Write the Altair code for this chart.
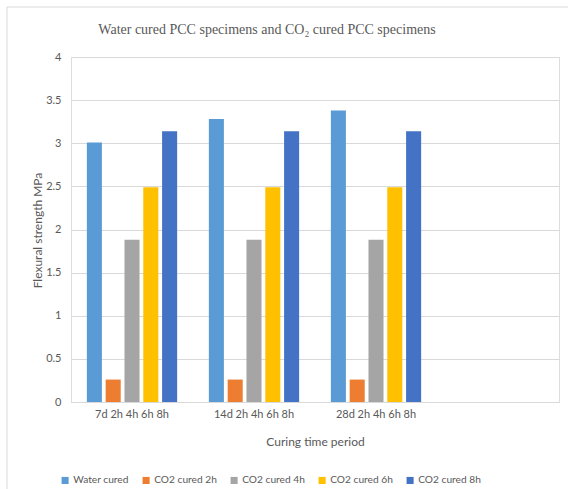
import altair as alt
import pandas as pd

# Curing periods on the x axis (a trailing blank slot keeps the empty fourth band)
periods = ["7d 2h 4h 6h 8h", "14d 2h 4h 6h 8h", "28d 2h 4h 6h 8h"]
blank_slot = [" "]

# Series and their flexural strength values (MPa) per period
series = ["Water cured", "CO2 cured 2h", "CO2 cured 4h", "CO2 cured 6h", "CO2 cured 8h"]
water_cured = [3.01, 3.28, 3.38]
co2_cured_2h = [0.26, 0.26, 0.26]
co2_cured_4h = [1.88, 1.88, 1.88]
co2_cured_6h = [2.49, 2.49, 2.49]
co2_cured_8h = [3.14, 3.14, 3.14]
series_colors = ["#5B9BD5", "#ED7D31", "#A5A5A5", "#FFC000", "#4472C4"]

y_ticks = [0, 0.5, 1, 1.5, 2, 2.5, 3, 3.5, 4]

chart_title = "Water cured PCC specimens and CO\u2082 cured PCC specimens"

values_by_series = [water_cured, co2_cured_2h, co2_cured_4h, co2_cured_6h, co2_cured_8h]
rows = []
for name, vals in zip(series, values_by_series):
    for period, v in zip(periods, vals):
        rows.append({"period": period, "series": name, "strength": v})
df = pd.DataFrame(rows)

GREY = "#595959"
GRID = "#D9D9D9"
SANS = "Lato"

bars = alt.Chart(df).mark_bar().encode(
    x=alt.X(
        "period:N",
        sort=periods,
        scale=alt.Scale(domain=periods + blank_slot, paddingInner=0.26, paddingOuter=0.13),
        axis=alt.Axis(
            title="Curing time period",
            labelAngle=0,
            labelFont=SANS,
            labelFontSize=11,
            labelColor=GREY,
            labelPadding=6,
            ticks=False,
            domainColor=GRID,
            titleFont=SANS,
            titleFontSize=12,
            titleFontWeight="normal",
            titleColor=GREY,
            titleY=39,
            titleBaseline="middle",
        ),
    ),
    xOffset=alt.XOffset(
        "series:N",
        sort=series,
        scale=alt.Scale(domain=series, paddingInner=0.2, paddingOuter=0),
    ),
    y=alt.Y(
        "strength:Q",
        scale=alt.Scale(domain=[0, 4], nice=False),
        axis=alt.Axis(
            title="Flexural strength MPa",
            values=y_ticks,
            format="~g",
            labelFont=SANS,
            labelFontSize=11,
            labelColor=GREY,
            labelPadding=10,
            ticks=False,
            domain=False,
            grid=True,
            gridColor=GRID,
            titleFont=SANS,
            titleFontSize=12,
            titleFontWeight="normal",
            titleColor=GREY,
            titleX=-34,
            titleY=173,
            titleAngle=-90,
            titleAlign="center",
            titleBaseline="middle",
        ),
    ),
    color=alt.Color(
        "series:N",
        sort=series,
        scale=alt.Scale(domain=series, range=series_colors),
        legend=alt.Legend(
            title=None,
            orient="none",
            direction="horizontal",
            legendX=-11,
            legendY=418,
            symbolType="square",
            symbolSize=50,
            symbolStrokeWidth=0,
            labelFont=SANS,
            labelFontSize=10.2,
            labelColor=GREY,
            labelOffset=3,
            columnPadding=12,
        ),
    ),
)

one_row = pd.DataFrame({"k": [0]})

# Thin outer frame around the whole chart area
frame = alt.Chart(one_row).mark_rect(
    fill=None, stroke=GRID, strokeWidth=1
).encode(
    x=alt.value(-64), x2=alt.value(520), y=alt.value(-50), y2=alt.value(450)
)

# Chart heading, set in a serif face above the plot
heading = alt.Chart(one_row).mark_text(
    text=chart_title,
    font="Liberation Serif",
    fontSize=14,
    color=GREY,
    align="center",
    baseline="middle",
).encode(x=alt.value(196), y=alt.value(-27))

chart = alt.layer(frame, bars, heading).properties(
    width=488,
    height=345,
    autosize=alt.AutoSizeParams(type="none"),
    padding={"left": 71, "top": 57, "right": 9, "bottom": 87},
).configure_view(stroke=None).configure(background="white")

chart.save("out.html", embed_options={"renderer": "svg", "actions": False})
